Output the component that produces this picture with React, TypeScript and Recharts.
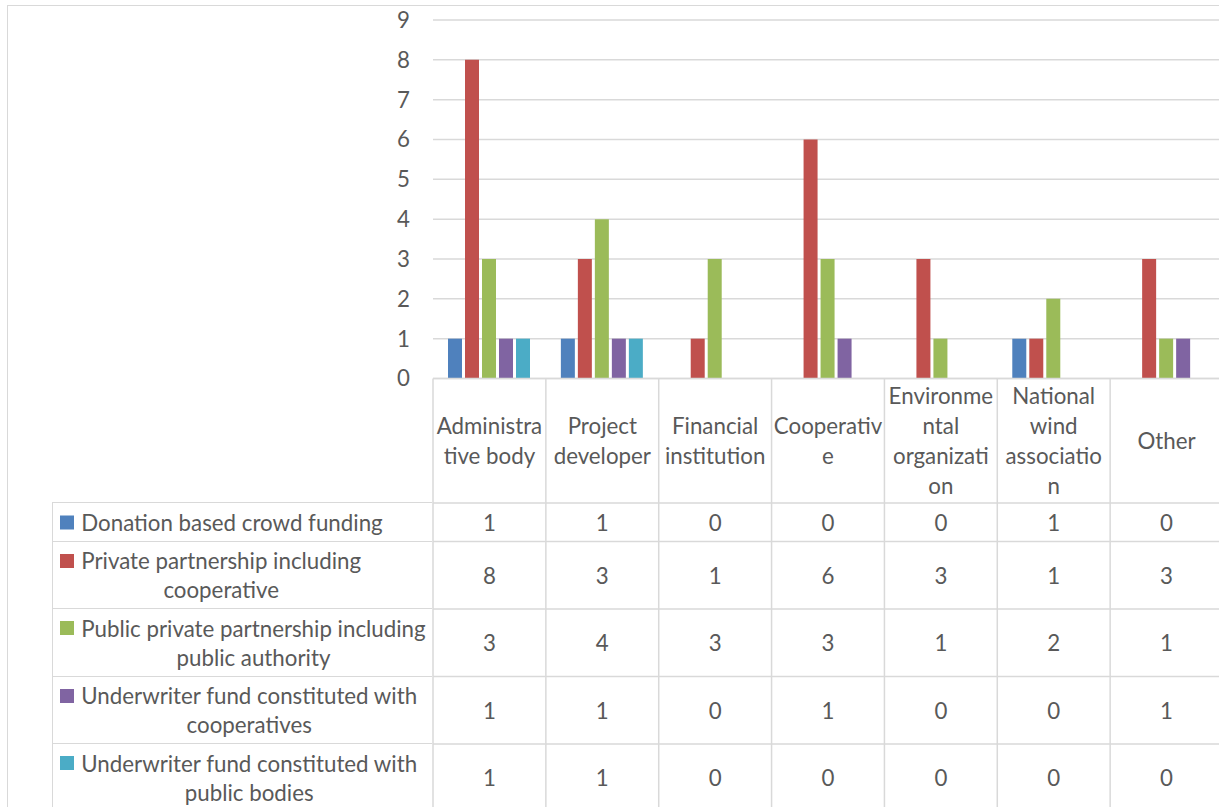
import React from 'react';
import { BarChart, Bar, XAxis, YAxis, CartesianGrid, Legend } from 'recharts';

// ---------- data ----------
const CATEGORIES = [
  'Administrative body',
  'Project developer',
  'Financial institution',
  'Cooperative',
  'Environmental organization',
  'National wind association',
  'Other',
];
const CATEGORY_LABEL_LINES = [
  ['Administra', 'tive body'],
  ['Project', 'developer'],
  ['Financial', 'institution'],
  ['Cooperativ', 'e'],
  ['Environme', 'ntal', 'organizati', 'on'],
  ['National', 'wind', 'associatio', 'n'],
  ['Other'],
];
const SERIES_NAMES = [
  'Donation based crowd funding',
  'Private partnership including cooperative',
  'Public private partnership including public authority',
  'Underwriter fund constituted with cooperatives',
  'Underwriter fund constituted with public bodies',
];
const SERIES_LABEL_LINES = [
  ['Donation based crowd funding'],
  ['Private partnership including', 'cooperative'],
  ['Public private partnership including', 'public authority'],
  ['Underwriter fund constituted with', 'cooperatives'],
  ['Underwriter fund constituted with', 'public bodies'],
];
const DONATION = [1, 1, 0, 0, 0, 1, 0];
const PRIVATE_PARTNERSHIP = [8, 3, 1, 6, 3, 1, 3];
const PUBLIC_PRIVATE = [3, 4, 3, 3, 1, 2, 1];
const UNDERWRITER_COOP = [1, 1, 0, 1, 0, 0, 1];
const UNDERWRITER_PUBLIC = [1, 1, 0, 0, 0, 0, 0];
const Y_TICKS = [0, 1, 2, 3, 4, 5, 6, 7, 8, 9];

const SERIES_VALUES = [DONATION, PRIVATE_PARTNERSHIP, PUBLIC_PRIVATE, UNDERWRITER_COOP, UNDERWRITER_PUBLIC];
const SERIES_KEYS = ['s0', 's1', 's2', 's3', 's4'];

// ---------- style / layout ----------
const COLORS = ['#4F81BD', '#C0504D', '#9BBB59', '#8064A2', '#4BACC6'];
const TEXT = '#595959';
const LINE = '#D9D9D9';
const FONT = 'Lato, "Open Sans", sans-serif';
const FS = 22.3;

const CHART_W = 1230;
const CHART_H = 812;
const MARGIN = { top: 20, right: 7, bottom: 0, left: 0 };
const YAXIS_W = 433;
const XAXIS_H = 433.5;
const PLOT_W = CHART_W - MARGIN.left - MARGIN.right - YAXIS_W;
const BAND = PLOT_W / CATEGORIES.length;
const HEADER_H = 124.5;
const ROW_HEIGHTS = [38.5, 67.5, 67.5, 67.5, 67.5];
const HEADER_LINE_H = 30;
const LEGEND_LINE_H = 29;

const data = CATEGORIES.map((c, i) => {
  const row: any = { category: c };
  SERIES_KEYS.forEach((k, s) => {
    row[k] = SERIES_VALUES[s][i];
  });
  return row;
});

const rowTops: number[] = [];
{
  let acc = HEADER_H;
  ROW_HEIGHTS.forEach((h) => {
    rowTops.push(acc);
    acc += h;
  });
}
const TABLE_BOTTOM = HEADER_H + ROW_HEIGHTS.reduce((a, b) => a + b, 0);

const ColumnTick = (props: any) => {
  const { x, y, payload } = props;
  const idx = payload.index;
  const half = BAND / 2;
  const left = x - half;
  const right = x + half;
  const lines = CATEGORY_LABEL_LINES[idx] || [String(payload.value)];
  const n = lines.length;
  const lineProps = { stroke: LINE, strokeWidth: 1.5 };
  return (
    <g>
      <line x1={left} x2={left} y1={y} y2={y + TABLE_BOTTOM} {...lineProps} />
      {idx === CATEGORIES.length - 1 && (
        <line x1={right} x2={right} y1={y} y2={y + TABLE_BOTTOM} {...lineProps} />
      )}
      {rowTops.map((t, r) => (
        <line key={r} x1={left} x2={right} y1={y + t} y2={y + t} {...lineProps} />
      ))}
      {lines.map((l, i) => (
        <text
          key={'h' + i}
          x={x}
          y={y + HEADER_H / 2 + (i - (n - 1) / 2) * HEADER_LINE_H}
          textAnchor="middle"
          dominantBaseline="central"
          fill={TEXT}
          fontSize={FS}
          fontFamily={FONT}
        >
          {l}
        </text>
      ))}
      {SERIES_VALUES.map((vals, r) => (
        <text
          key={'v' + r}
          x={x}
          y={y + rowTops[r] + ROW_HEIGHTS[r] / 2}
          textAnchor="middle"
          dominantBaseline="central"
          fill={TEXT}
          fontSize={FS}
          fontFamily={FONT}
        >
          {vals[idx]}
        </text>
      ))}
    </g>
  );
};

const LegendTable = (props: any) => {
  const payload = props.payload || [];
  return (
    <div style={{ position: 'relative', width: YAXIS_W - 53, height: TABLE_BOTTOM - HEADER_H }}>
      {payload.map((entry: any, i: number) => {
        const si = SERIES_NAMES.indexOf(entry.value);
        const lines = SERIES_LABEL_LINES[si >= 0 ? si : i];
        const top = rowTops[i] - HEADER_H;
        return (
          <div
            key={i}
            style={{
              position: 'absolute',
              left: 0,
              top,
              width: YAXIS_W - 53,
              height: ROW_HEIGHTS[i],
              borderTop: `1.5px solid ${LINE}`,
              borderLeft: `1.5px solid ${LINE}`,
              boxSizing: 'border-box',
            }}
          >
            <div
              style={{
                position: 'absolute',
                left: 28,
                top: '50%',
                transform: 'translateY(-50%)',
                textAlign: 'center',
                lineHeight: LEGEND_LINE_H + 'px',
                whiteSpace: 'nowrap',
                fontFamily: FONT,
                fontSize: FS,
                color: TEXT,
              }}
            >
              <span
                style={{
                  position: 'absolute',
                  left: -21,
                  top: LEGEND_LINE_H / 2 - 7,
                  width: 14,
                  height: 14,
                  background: entry.color,
                }}
              />
              {lines.map((l, k) => (
                <div key={k}>{l}</div>
              ))}
            </div>
          </div>
        );
      })}
    </div>
  );
};

export default function App() {
  return (
    <div
      style={{
        position: 'absolute',
        left: 0,
        top: 0,
        width: 1219,
        height: 807,
        overflow: 'hidden',
        background: '#fff',
      }}
    >
      <div
        style={{
          position: 'absolute',
          left: 7,
          top: 5,
          width: 1400,
          height: 1000,
          borderLeft: `1.5px solid ${LINE}`,
          borderTop: `1.5px solid ${LINE}`,
        }}
      />
      <div style={{ position: 'absolute', left: 0, top: 0 }}>
        <BarChart
          width={CHART_W}
          height={CHART_H}
          data={data}
          margin={MARGIN}
          barSize={14}
          barGap={3}
        >
          <CartesianGrid vertical={false} stroke={LINE} strokeWidth={1.5} />
          <XAxis
            dataKey="category"
            height={XAXIS_H}
            interval={0}
            tickLine={false}
            tickSize={0}
            tickMargin={0}
            axisLine={{ stroke: LINE, strokeWidth: 1.5 }}
            tick={<ColumnTick />}
          />
          <YAxis
            domain={[0, 9]}
            ticks={Y_TICKS}
            width={YAXIS_W}
            tickLine={false}
            axisLine={false}
            tickSize={0}
            tickMargin={23}
            interval={0}
            tick={{ fill: TEXT, fontSize: FS, fontFamily: FONT }}
          />
          <Legend
            layout="horizontal"
            verticalAlign="middle"
            align="center"
            content={<LegendTable />}
            wrapperStyle={{
              left: 52.25,
              top: MARGIN.top + (CHART_H - MARGIN.top - XAXIS_H) + HEADER_H - 0.75,
              width: YAXIS_W - 53,
              height: TABLE_BOTTOM - HEADER_H,
            }}
          />
          {SERIES_KEYS.map((k, s) => (
            <Bar key={k} dataKey={k} name={SERIES_NAMES[s]} fill={COLORS[s]} isAnimationActive={false} />
          ))}
        </BarChart>
      </div>
    </div>
  );
}
